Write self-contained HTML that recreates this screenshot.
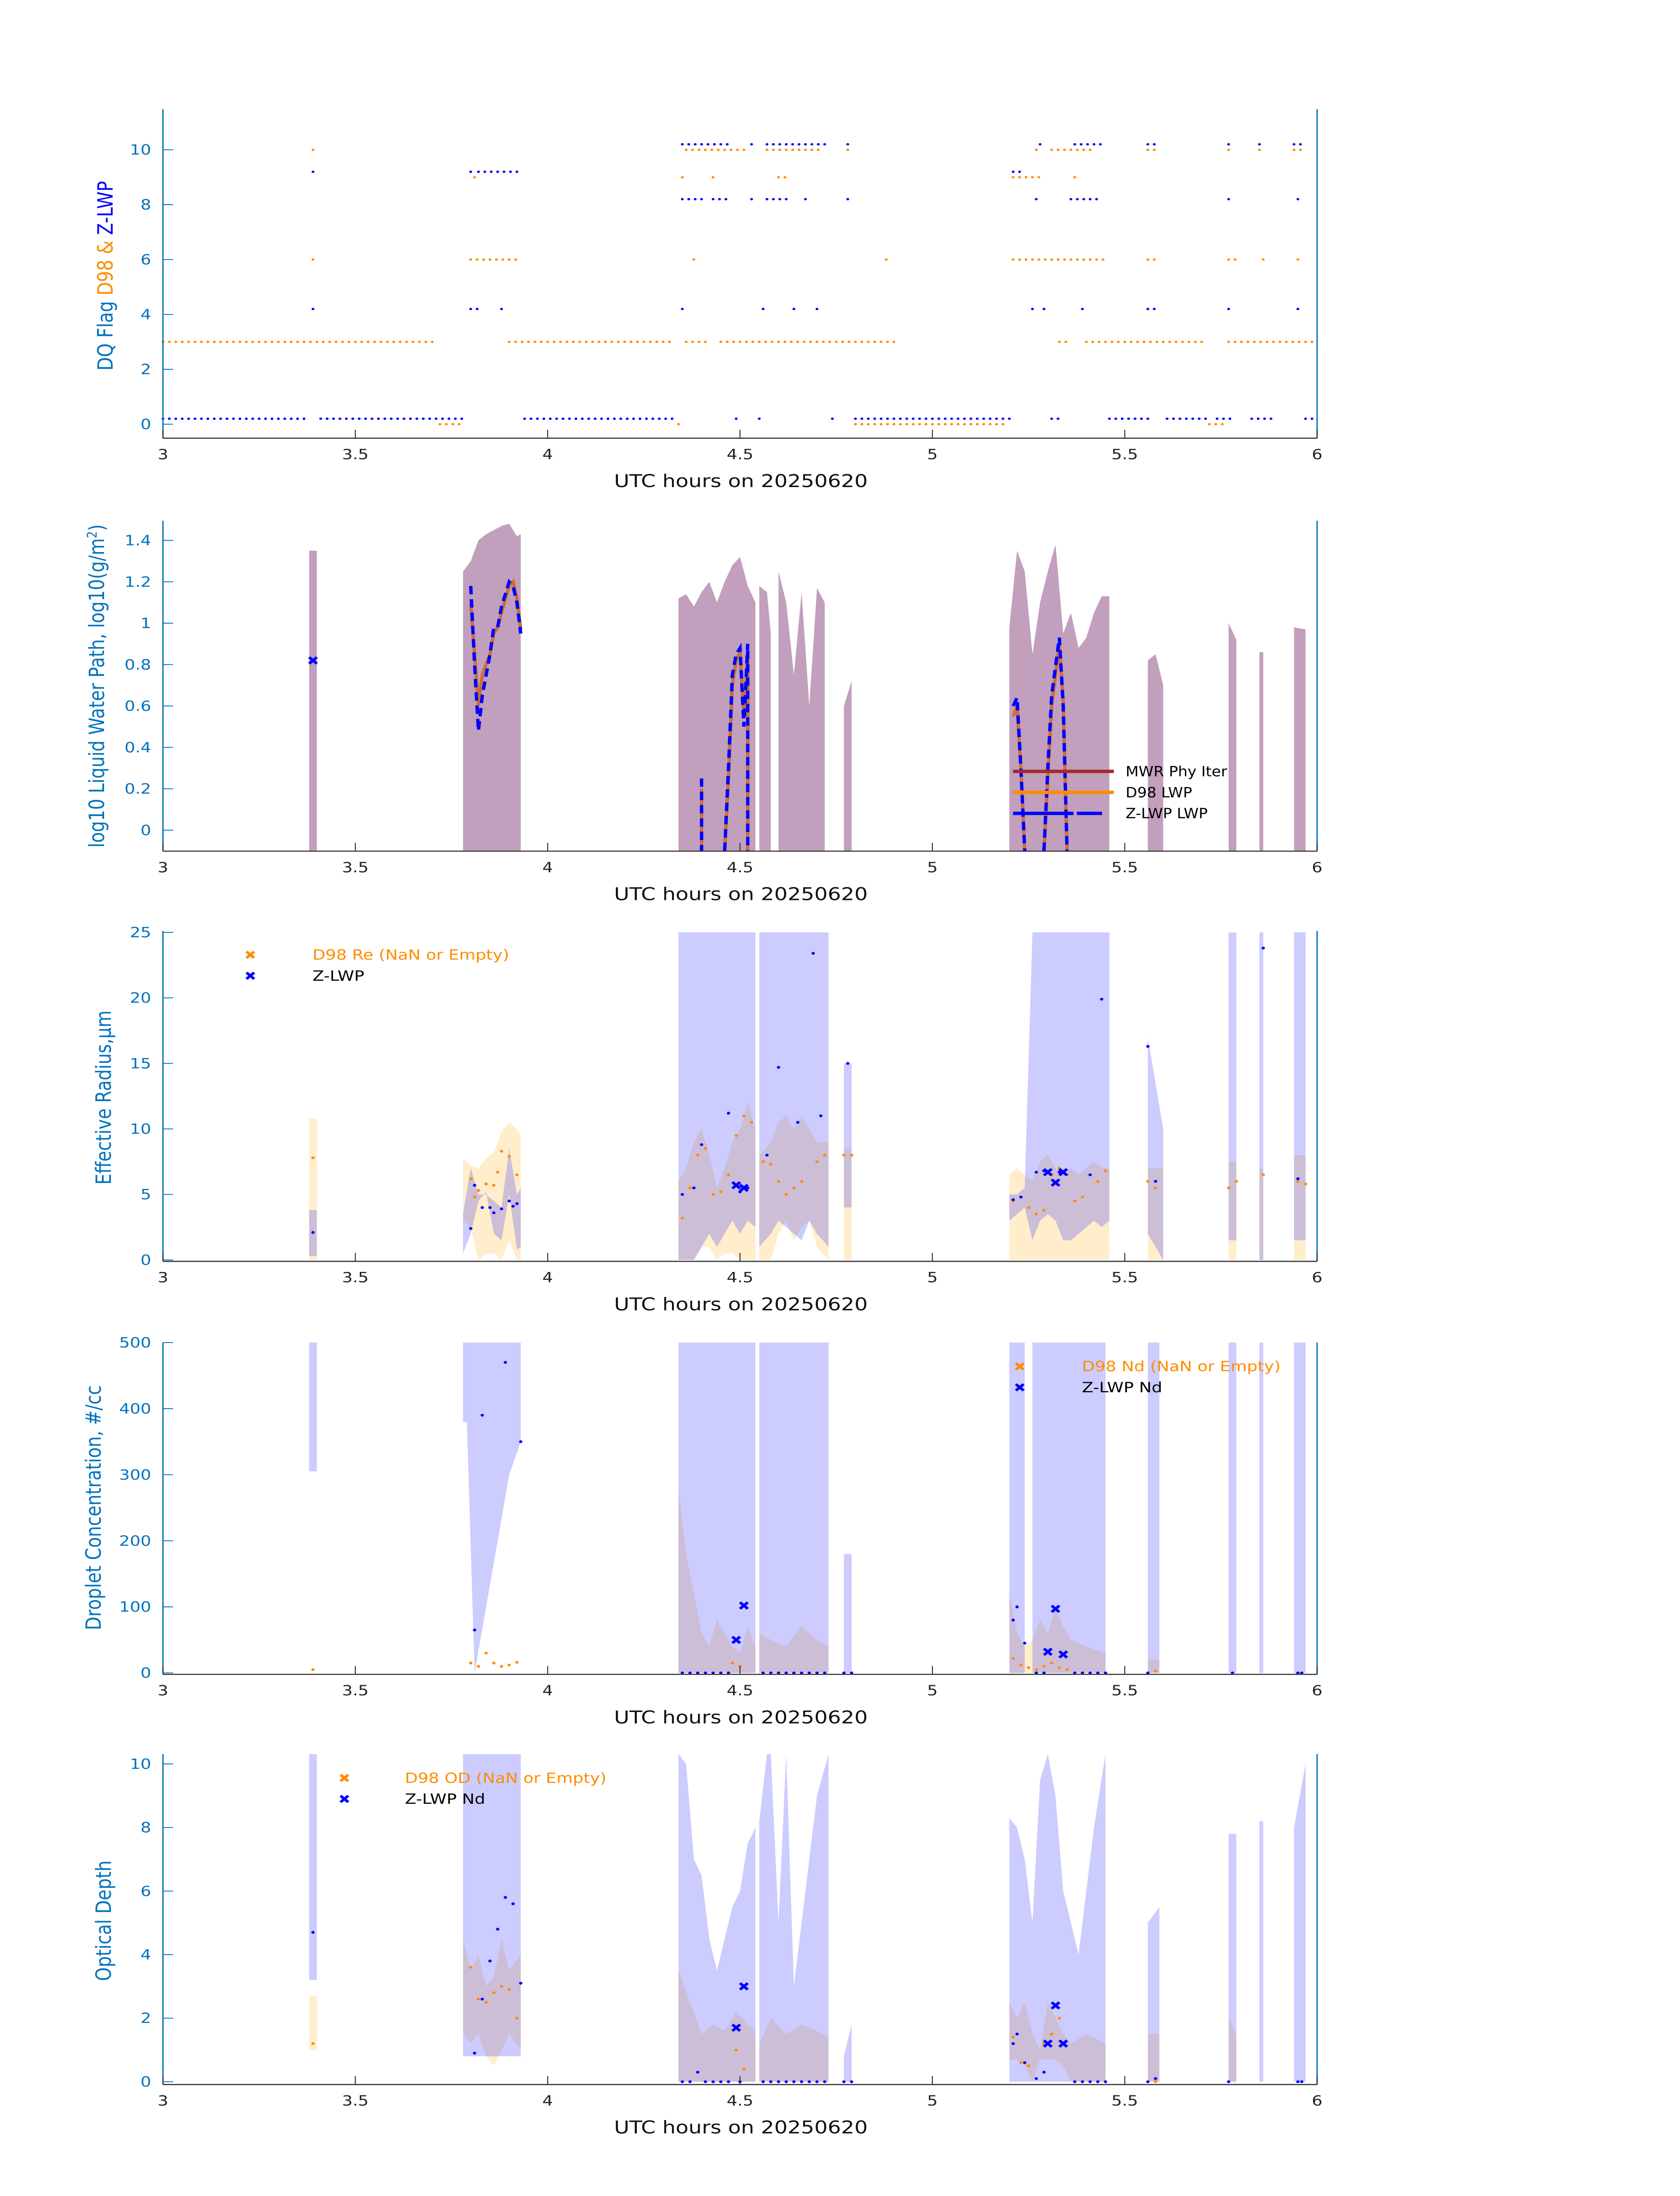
<!DOCTYPE html>
<html><head><meta charset="utf-8"><style>
html,body{margin:0;padding:0;background:#fff;overflow:hidden;width:100vw;height:100vh}
svg{display:block;position:fixed;left:0;top:0;width:100vw;height:100vh}
text{font-family:"DejaVu Sans","Liberation Sans",sans-serif}
</style></head><body>
<svg id="fig" xmlns="http://www.w3.org/2000/svg" viewBox="0 0 1000 1568.63" preserveAspectRatio="none"></svg>
<script>
// ---------- DATA ----------
const d98Flag0 = [[3.72,3.78],[4.34,4.34],[4.80,5.19],[5.72,5.76]];
const d98Flag3 = [[3.0,3.71],[3.90,4.32],[4.36,4.41],[4.45,4.91],[5.33,5.35],[5.40,5.71],[5.77,6.0]];
const d98Flag6 = [[3.39,3.39],[3.80,3.93],[4.38,4.38],[4.88,4.88],[5.21,5.45],[5.56,5.59],[5.77,5.79],[5.86,5.86],[5.95,5.96]];
const d98Flag9 = [[3.81,3.81],[4.35,4.35],[4.43,4.43],[4.60,4.62],[5.21,5.29],[5.37,5.38]];
const d98Flag10 = [[3.39,3.39],[4.36,4.52],[4.57,4.71],[4.78,4.79],[5.27,5.27],[5.31,5.42],[5.56,5.59],[5.77,5.77],[5.85,5.85],[5.94,5.96]];
const zFlag0 = [[3.0,3.38],[3.41,3.78],[3.94,4.33],[4.49,4.50],[4.55,4.55],[4.74,4.75],[4.80,5.20],[5.31,5.34],[5.46,5.56],[5.61,5.72],[5.74,5.78],[5.83,5.89],[5.97,6.0]];
const zFlag4 = [[3.39,3.39],[3.80,3.83],[3.88,3.88],[4.35,4.36],[4.56,4.56],[4.64,4.65],[4.70,4.70],[5.26,5.26],[5.29,5.29],[5.39,5.39],[5.56,5.58],[5.77,5.78],[5.95,5.95]];
const zFlag8 = [[4.35,4.40],[4.43,4.47],[4.53,4.53],[4.57,4.62],[4.67,4.67],[4.78,4.78],[5.27,5.27],[5.36,5.43],[5.77,5.77],[5.95,5.96]];
const zFlag9 = [[3.39,3.39],[3.80,3.80],[3.82,3.93],[5.21,5.24]];
const zFlag10 = [[4.35,4.47],[4.53,4.53],[4.57,4.72],[4.78,4.79],[5.28,5.28],[5.37,5.45],[5.56,5.58],[5.77,5.77],[5.85,5.85],[5.94,5.96]];

const lwpBandT = [3.38,3.40,null,3.78,3.80,3.82,3.84,3.86,3.88,3.90,3.92,3.93,null,4.34,4.36,4.38,4.40,4.42,4.44,4.46,4.48,4.50,4.52,4.54,null,4.55,4.57,4.58,null,4.60,4.62,4.64,4.66,4.68,4.70,4.72,null,4.77,4.79,null,5.20,5.22,5.24,5.26,5.28,5.30,5.32,5.34,5.36,5.38,5.40,5.42,5.44,5.46,null,5.56,5.58,5.60,null,5.77,5.79,null,5.85,5.86,null,5.94,5.97];
const lwpBandHi = [1.35,1.35,null,1.25,1.3,1.4,1.43,1.45,1.47,1.48,1.42,1.43,null,1.12,1.14,1.08,1.15,1.2,1.1,1.2,1.28,1.32,1.18,1.1,null,1.18,1.15,0.95,null,1.25,1.1,0.75,1.15,0.6,1.17,1.1,null,0.6,0.72,null,0.98,1.35,1.25,0.85,1.1,1.25,1.38,0.95,1.05,0.88,0.93,1.05,1.13,1.13,null,0.82,0.85,0.7,null,1.0,0.92,null,0.86,0.86,null,0.98,0.97];
const zLwpT = [3.80,3.81,3.82,3.83,3.85,3.86,3.87,3.88,3.90,3.91,3.92,3.93,null,4.40,4.40,null,4.46,4.47,4.48,4.49,4.50,4.51,4.52,4.52,null,5.21,5.22,5.23,5.24,null,5.29,5.30,5.31,5.33,5.34,5.35];
const zLwpV = [1.18,0.8,0.48,0.65,0.85,0.98,0.98,1.08,1.2,1.18,1.1,0.95,null,0.25,-0.1,null,-0.1,0.3,0.75,0.85,0.88,0.5,0.9,-0.1,null,0.6,0.64,0.3,-0.1,null,-0.1,0.3,0.65,0.93,0.6,-0.1];
const d98LwpT = [3.80,3.81,3.82,3.83,3.85,3.86,3.87,3.88,3.90,3.91,3.92,3.93,null,4.40,4.40,null,4.46,4.47,4.48,4.49,4.50,4.51,4.52,4.52,null,5.21,5.22,5.23,5.24,null,5.29,5.30,5.31,5.33,5.34,5.35];
const d98LwpV = [1.1,0.85,0.6,0.75,0.85,0.95,0.98,1.05,1.18,1.2,1.12,0.97,null,0.2,-0.1,null,-0.1,0.25,0.7,0.82,0.86,0.55,0.85,-0.1,null,0.55,0.6,0.3,-0.1,null,-0.1,0.25,0.6,0.9,0.62,-0.1];
const zLwpXT = [3.39];
const zLwpXV = [0.82];

const reOBandT = [3.38,3.40,null,3.78,3.80,3.82,3.84,3.86,3.88,3.90,3.92,3.93,null,4.34,4.36,4.38,4.40,4.42,4.44,4.46,4.48,4.50,4.52,4.54,null,4.55,4.58,4.60,4.62,4.64,4.66,4.68,4.70,4.73,null,4.77,4.79,null,5.20,5.22,5.24,5.26,5.28,5.30,5.32,5.34,5.36,5.38,5.40,5.42,5.44,5.46,null,5.56,5.60,null,5.77,5.79,null,5.85,5.86,null,5.94,5.97];
const reOLo = [0,0,null,3,2.5,0,0.5,0.5,0,1.5,0,0,null,0,0,0,1,1,0,0.5,0.5,0,0,0,null,0,0,2,3,1.5,2.5,3,1,0,null,0,0,null,0,0,0,0,0,0,0,0,0,0,0,0,0,0,null,0,0,null,0,0,null,0,0,null,0,0];
const reOHi = [10.8,10.8,null,7.7,7.2,7,7.8,8.2,9.8,10.5,10,9.5,null,6,7,9,10,8,5.5,7,9,10,12,10,null,8,9,10.5,11,10,11,10,9,9,null,8.5,8.5,null,6.5,7,6.5,6,7.5,8,7,6.5,7,6.5,7,7.5,7,7,null,7,7,null,7.5,7.5,null,7,7,null,8,8];
const reBLo = [0.3,0.3,null,0.5,2,4.5,5.2,2,1.5,5,0.8,1,null,0,0,0,1,2,1,2,3,2,3,2.5,null,1,2,3,2.5,2,1.5,3,2,1,null,4,4,null,3,3.5,4,1.5,3,3.5,3,1.5,1.5,2,2.5,3,2.5,3,null,2,0,null,1.5,1.5,null,0,0,null,1.5,1.5];
const reBHi = [3.8,3.8,null,3.5,7,5,5,4.5,4,8.5,5,5.5,null,25,25,25,25,25,25,25,25,25,25,25,null,25,25,25,25,25,25,25,25,25,null,15,15,null,5,5,5.5,25,25,25,25,25,25,25,25,25,25,25,null,17,10,null,25,25,null,25,25,null,25,25];
const reOPtT = [3.39,3.80,3.81,3.82,3.84,3.86,3.87,3.88,3.90,3.92,4.35,4.37,4.39,4.41,4.43,4.45,4.47,4.49,4.51,4.53,4.56,4.58,4.60,4.62,4.64,4.66,4.70,4.72,4.77,4.79,5.21,5.23,5.25,5.27,5.29,5.31,5.33,5.35,5.37,5.39,5.41,5.43,5.45,5.56,5.58,5.77,5.79,5.86,5.95,5.97];
const reOPtV = [7.8,6.2,4.8,5.3,5.8,5.7,6.7,8.3,7.9,6.5,3.2,5.5,8,8.5,5,5.2,6.5,9.5,11,10.5,7.5,7.3,6,5,5.5,6,7.5,8,8,8,4.5,4.8,4,3.5,3.8,6.5,7,6.5,4.5,4.8,6.5,6,6.8,6,5.5,5.5,6,6.5,6,5.8];
const reBPtT = [3.39,3.80,3.81,3.83,3.85,3.86,3.88,3.90,3.91,3.92,4.35,4.38,4.40,4.47,4.50,4.52,4.57,4.60,4.65,4.69,4.71,4.78,5.21,5.23,5.27,5.29,5.33,5.41,5.44,5.56,5.58,5.86,5.95];
const reBPtV = [2.1,2.4,5.7,4,4,3.6,3.9,4.5,4.1,4.3,5,5.5,8.8,11.2,5.2,5.5,8,14.7,10.5,23.4,11,15,4.6,4.8,6.7,6.8,6.7,6.5,19.9,16.3,6,23.8,6.2];
const reXT = [4.49,4.51,5.30,5.32,5.34];
const reXV = [5.7,5.5,6.7,5.9,6.7];

const ndBBandT = [3.38,3.40,null,3.78,3.79,3.81,3.84,3.87,3.90,3.93,null,4.34,4.54,null,4.55,4.73,null,4.77,4.79,null,5.20,5.24,null,5.26,5.45,null,5.56,5.59,null,5.77,5.79,null,5.85,5.86,null,5.94,5.97];
const ndBLo = [305,305,null,380,380,0,100,200,300,350,null,0,0,null,0,0,null,0,0,null,0,0,null,0,0,null,0,0,null,0,0,null,0,0,null,0,0];
const ndBHi = [500,500,null,500,500,500,500,500,500,500,null,500,500,null,500,500,null,180,180,null,500,500,null,500,500,null,500,500,null,500,500,null,500,500,null,500,500];
const ndOBandT = [4.34,4.36,4.38,4.40,4.42,4.44,4.46,4.48,4.50,4.52,4.54,null,4.55,4.58,4.62,4.66,4.70,4.73,null,5.20,5.22,5.24,5.26,5.28,5.30,5.32,5.34,5.36,5.40,5.45,null,5.56,5.59];
const ndOLo = [0,0,0,0,0,0,0,0,0,0,0,null,0,0,0,0,0,0,null,0,0,0,0,0,0,0,0,0,0,0,null,0,0];
const ndOHi = [280,180,120,60,40,80,60,40,30,70,40,null,60,50,40,70,50,40,null,120,60,40,50,80,60,100,70,50,40,30,null,20,20];
const ndOPtT = [3.39,3.80,3.82,3.84,3.86,3.88,3.90,3.92,4.48,4.50,5.21,5.23,5.25,5.27,5.29,5.31,5.33,5.35,5.58];
const ndOPtV = [5,15,10,30,15,10,12,16,15,10,22,12,8,5,10,15,8,5,3];
const ndBPtT = [3.81,3.83,3.89,3.93,4.35,4.37,4.39,4.41,4.43,4.45,4.47,4.56,4.58,4.60,4.62,4.64,4.66,4.68,4.70,4.72,4.77,4.79,5.21,5.22,5.24,5.27,5.29,5.37,5.39,5.41,5.43,5.45,5.56,5.78,5.95,5.96];
const ndBPtV = [65,390,470,350,0,0,0,0,0,0,0,0,0,0,0,0,0,0,0,0,0,0,80,100,45,0,0,0,0,0,0,0,0,0,0,0];
const ndXT = [4.49,4.51,5.30,5.32,5.34];
const ndXV = [50,102,32,97,28];

const odBBandT = [3.38,3.40,null,3.78,3.93,null,4.34,4.36,4.38,4.40,4.42,4.44,4.46,4.48,4.50,4.52,4.54,null,4.55,4.57,4.58,4.60,4.62,4.64,4.66,4.68,4.70,4.73,null,4.77,4.79,null,5.20,5.22,5.24,5.26,5.28,5.30,5.32,5.34,5.36,5.38,5.40,5.42,5.45,null,5.56,5.59,null,5.77,5.79,null,5.85,5.86,null,5.94,5.97];
const odBLo = [3.2,3.2,null,0.8,0.8,null,0,0,0,0,0,0,0,0,0,0,0,null,0,0,0,0,0,0,0,0,0,0,null,0,0,null,0,0,0,0,0,0,0,0,0,0,0,0,0,null,0,0,null,0,0,null,0,0,null,0,0];
const odBHi = [10.4,10.4,null,10.4,10.4,null,10.4,10,7,6.5,4.5,3.5,4.5,5.5,6,7.5,8,null,8.2,10.4,10.4,5,10.4,3,5,7,9,10.4,null,0.8,1.8,null,8.3,8,7,5,9.5,10.4,9,6,5,4,6,8,10.4,null,5,5.5,null,7.8,7.8,null,8.2,8.2,null,8,10];
const odOBandT = [3.38,3.40,null,3.78,3.80,3.82,3.84,3.86,3.88,3.90,3.93,null,4.34,4.37,4.40,4.43,4.46,4.49,4.52,4.54,null,4.55,4.58,4.62,4.66,4.70,4.73,null,5.20,5.22,5.24,5.26,5.28,5.30,5.32,5.34,5.36,5.40,5.45,null,5.56,5.59,null,5.77,5.79];
const odOLo = [1,1,null,1.5,1.2,1.5,0.8,0.5,1,1.5,1,null,0,0,0,0,0,0,0,0,null,0,0,0,0,0,0,null,0.7,0.7,0.5,0,0.7,0.7,0.7,0.5,0,0,0,null,0,0,null,0,0];
const odOHi = [2.7,2.7,null,4.5,3.5,4,3,3.3,4.5,3.5,4,null,3.5,2.5,1.5,1.8,1.6,2.2,1.8,1.6,null,1.2,2.0,1.5,1.8,1.6,1.4,null,2.5,2,2.5,1.5,1,2.5,2,1.5,1.2,1.5,1.2,null,1.5,1.5,null,2,1.5];
const odOPtT = [3.39,3.80,3.82,3.84,3.86,3.88,3.90,3.92,4.49,4.51,5.21,5.23,5.25,5.29,5.31,5.33,5.58];
const odOPtV = [1.2,3.6,2.6,2.5,2.8,3.0,2.9,2.0,1.0,0.4,1.4,0.6,0.5,1.2,1.5,2.0,0];
const odBPtT = [3.39,3.81,3.83,3.85,3.87,3.89,3.91,3.93,4.35,4.37,4.39,4.41,4.43,4.45,4.47,4.50,4.56,4.58,4.60,4.62,4.64,4.66,4.68,4.70,4.72,4.77,4.79,5.21,5.22,5.24,5.27,5.29,5.37,5.39,5.41,5.43,5.45,5.56,5.58,5.77,5.95,5.96];
const odBPtV = [4.7,0.9,2.6,3.8,4.8,5.8,5.6,3.1,0,0,0.3,0,0,0,0,0,0,0,0,0,0,0,0,0,0,0,0,1.2,1.5,0.6,0.1,0.3,0,0,0,0,0,0,0.1,0,0,0];
const odXT = [4.49,4.51,5.30,5.32,5.34];
const odXV = [1.7,3.0,1.2,2.4,1.2];

const xTicks = [3,3.5,4,4.5,5,5.5,6];
const xTickLabels = ["3","3.5","4","4.5","5","5.5","6"];

// ---------- DRAWING ----------
const NS = "http://www.w3.org/2000/svg";
const svg = document.getElementById('fig');
function mk(tag, attrs, parent){const e=document.createElementNS(NS,tag);for(const k in attrs)e.setAttribute(k,attrs[k]);(parent||svg).appendChild(e);return e;}
const X0=97, X1=784;
function xs(t){return X0+(X1-X0)*(t-3)/3;}
const ORANGE="#ff8c00", BLUE="#0000ff", AXBLUE="#0072bd";

function makePanel(name, top, bot, v0, p0, v1, p1, ymin, yTicks, yLabels){
  const g=mk('g',{});
  
  
  const ys=v=>{let y=p0+(p1-p0)*(v-v0)/(v1-v0);return Math.min(bot,Math.max(top,y));};
  return {g,top,bot,ys,yTicks,yLabels};
}
function drawAxes(P, xlabel, ylabelParts, ylabX, ylabY){
  const g=P.g;
  const ax=mk('g',{},g);
  
  
  mk('line',{x1:X0,y1:P.top,x2:X0,y2:P.bot,stroke:AXBLUE,'stroke-width':0.8},ax);
  mk('line',{x1:X1,y1:P.top,x2:X1,y2:P.bot,stroke:AXBLUE,'stroke-width':0.8},ax);
  mk('line',{x1:X0,y1:P.bot,x2:X1,y2:P.bot,stroke:"#333",'stroke-width':0.8},ax);
  xTicks.forEach((t,i)=>{
    mk('line',{x1:xs(t),y1:P.bot,x2:xs(t),y2:P.bot-6,stroke:"#333",'stroke-width':0.6},ax);
    const tx=mk('text',{x:xs(t),y:P.bot+15,'font-size':10,'text-anchor':'middle',fill:'#222'},ax);
    
    
    tx.textContent=xTickLabels[i];
  });
  P.yTicks.forEach((v,i)=>{
    const y=P.ys(v);
    mk('line',{x1:X0,y1:y,x2:X0+6,y2:y,stroke:AXBLUE,'stroke-width':0.6},ax);
    const tx=mk('text',{x:X0-7,y:y+3.5,'font-size':10,'text-anchor':'end',fill:AXBLUE},ax);
    
    
    tx.textContent=P.yLabels[i];
  });
  const xl=mk('text',{x:441,y:P.bot+35,'font-size':12.5,'text-anchor':'middle',fill:'#111'},ax);
  
  
  xl.textContent=xlabel;
  const yl=mk('text',{x:ylabX,y:ylabY,'font-size':12.5,'text-anchor':'middle',transform:`rotate(-90 ${ylabX} ${ylabY})`},ax);
  
  
  ylabelParts.forEach(p=>{const s=mk('tspan',{fill:p[1]},yl);if(p[2]){s.setAttribute('baseline-shift','super');s.setAttribute('font-size','8');}s.textContent=p[0];});
}
function band(P,T,lo,hi,fill,op,name){
  let seg=[];
  const flush=()=>{if(seg.length<2){seg=[];return;}
    let d='M'+seg.map(s=>xs(s[0]).toFixed(2)+','+P.ys(s[2]).toFixed(2)).join('L');
    d+='L'+seg.slice().reverse().map(s=>xs(s[0]).toFixed(2)+','+P.ys(s[1]).toFixed(2)).join('L')+'Z';
    const e=mk('path',{d,fill,'fill-opacity':op},P.g);
    
    
    seg=[];};
  T.forEach((t,i)=>{if(t===null)flush();else seg.push([t,lo[i],hi[i]]);});
  flush();
}
function line(P,T,V,stroke,w,dash,name){
  let seg=[];
  const flush=()=>{if(seg.length<2){seg=[];return;}
    const e=mk('polyline',{points:seg.map(s=>xs(s[0]).toFixed(2)+','+P.ys(s[1]).toFixed(2)).join(' '),fill:'none',stroke,'stroke-width':w,'stroke-dasharray':dash||'none'},P.g);
    
    
    seg=[];};
  T.forEach((t,i)=>{if(t===null)flush();else seg.push([t,V[i]]);});
  flush();
}
function pts(P,T,V,fill,r,name){
  T.forEach((t,i)=>{
    const c=mk('circle',{cx:xs(t),cy:P.ys(V[i]),r,fill},P.g);
    
    
  });
}
function xmark(P,x,y,col,name){
  const e=mk('path',{d:`M${x-2.3},${y-2.3}L${x+2.3},${y+2.3}M${x-2.3},${y+2.3}L${x+2.3},${y-2.3}`,stroke:col,'stroke-width':1.8},P.g);
  
  
}
function xmarks(P,T,V,col,name){T.forEach((t,i)=>xmark(P,xs(t),P.ys(V[i]),col,name));}
function runs(P,R,flag,off,col,name){
  const T=[],V=[];
  R.forEach(r=>{for(let t=r[0];t<=r[1]+1e-6;t+=1/60){T.push(t);V.push(flag+off);}});
  pts(P,T,V,col,0.85,name);
}
function legendText(P,x,y,txt,col,cond){
  const e=mk('text',{x,y:y+3.5,'font-size':10,fill:col},P.g);
  if(cond)e.setAttribute('font-stretch','condensed');
  
  
  e.textContent=txt;
}

// Panel 1
const P1=makePanel('dq-flag-panel',78,313,0,303,10,107,0,[0,2,4,6,8,10],["0","2","4","6","8","10"]);
runs(P1,d98Flag0,0,0,ORANGE,'d98-flag-point');
runs(P1,d98Flag3,3,0,ORANGE,'d98-flag-point');
runs(P1,d98Flag6,6,0,ORANGE,'d98-flag-point');
runs(P1,d98Flag9,9,0,ORANGE,'d98-flag-point');
runs(P1,d98Flag10,10,0,ORANGE,'d98-flag-point');
runs(P1,zFlag0,0,0.2,BLUE,'zlwp-flag-point');
runs(P1,zFlag4,4,0.2,BLUE,'zlwp-flag-point');
runs(P1,zFlag8,8,0.2,BLUE,'zlwp-flag-point');
runs(P1,zFlag9,9,0.2,BLUE,'zlwp-flag-point');
runs(P1,zFlag10,10,0.2,BLUE,'zlwp-flag-point');
drawAxes(P1,'UTC hours on 20250620',[["DQ Flag ",AXBLUE],["D98 & ",ORANGE],[" Z-LWP",BLUE]],67,197);

// Panel 2
const P2=makePanel('lwp-panel',372,608,0,593,1.4,386,-0.1,[0,0.2,0.4,0.6,0.8,1,1.2,1.4],["0","0.2","0.4","0.6","0.8","1","1.2","1.4"]);
band(P2,lwpBandT,lwpBandT.map(t=>t===null?null:-0.2),lwpBandHi,'#c29fbd',1,'lwp-uncertainty-band');
line(P2,d98LwpT,d98LwpV,'#cc7033',2,null,'d98-lwp-line');
line(P2,zLwpT,zLwpV,BLUE,2,'6,3.5','zlwp-lwp-line');
xmarks(P2,zLwpXT,zLwpXV,BLUE,'zlwp-lwp-marker');
mk('line',{x1:603,y1:551,x2:663,y2:551,stroke:'#a52a2a','stroke-width':2.4},P2.g);
mk('line',{x1:603,y1:566,x2:663,y2:566,stroke:ORANGE,'stroke-width':2.4},P2.g);
mk('line',{x1:603,y1:581,x2:639,y2:581,stroke:BLUE,'stroke-width':2.4},P2.g);
mk('line',{x1:641,y1:581,x2:656,y2:581,stroke:BLUE,'stroke-width':2.4},P2.g);
legendText(P2,670,551,'MWR Phy Iter','#000',true);
legendText(P2,670,566,'D98 LWP','#000',true);
legendText(P2,670,581,'Z-LWP LWP','#000',true);
drawAxes(P2,'UTC hours on 20250620',[["log10 Liquid Water Path, log10(g/m",AXBLUE],["2",AXBLUE,true],[")",AXBLUE]],62,490);

// Panel 3
const P3=makePanel('effective-radius-panel',665,901,0,900,25,666,0,[0,5,10,15,20,25],["0","5","10","15","20","25"]);
band(P3,reOBandT,reOLo,reOHi,'#ffa500',0.2,'d98-re-band');
band(P3,reOBandT,reBLo,reBHi,'#0000ff',0.2,'zlwp-re-band');
pts(P3,reOPtT,reOPtV,ORANGE,1,'d98-re-point');
pts(P3,reBPtT,reBPtV,BLUE,1,'zlwp-re-point');
xmarks(P3,reXT,reXV,BLUE,'zlwp-re-marker');
xmark(P3,149,682,ORANGE,'legend-marker');
xmark(P3,149,697,BLUE,'legend-marker');
legendText(P3,186,682,'D98 Re (NaN or Empty)',ORANGE,false);
legendText(P3,186,697,'Z-LWP','#000',false);
drawAxes(P3,'UTC hours on 20250620',[["Effective Radius,\u03bcm",AXBLUE]],66,784);

// Panel 4
const P4=makePanel('droplet-concentration-panel',959,1196,0,1195,500,959,0,[0,100,200,300,400,500],["0","100","200","300","400","500"]);
band(P4,ndOBandT,ndOLo,ndOHi,'#ffa500',0.2,'d98-nd-band');
band(P4,ndBBandT,ndBLo,ndBHi,'#0000ff',0.2,'zlwp-nd-band');
pts(P4,ndOPtT,ndOPtV,ORANGE,1,'d98-nd-point');
pts(P4,ndBPtT,ndBPtV,BLUE,1,'zlwp-nd-point');
xmarks(P4,ndXT,ndXV,BLUE,'zlwp-nd-marker');
xmark(P4,607,976,ORANGE,'legend-marker');
xmark(P4,607,991,BLUE,'legend-marker');
legendText(P4,644,976,'D98 Nd (NaN or Empty)',ORANGE,false);
legendText(P4,644,991,'Z-LWP Nd','#000',false);
drawAxes(P4,'UTC hours on 20250620',[["Droplet Concentration, #/cc",AXBLUE]],60,1077);

// Panel 5
const P5=makePanel('optical-depth-panel',1253,1489,0,1487,10,1260,0,[0,2,4,6,8,10],["0","2","4","6","8","10"]);
band(P5,odOBandT,odOLo,odOHi,'#ffa500',0.2,'d98-od-band');
band(P5,odBBandT,odBLo,odBHi,'#0000ff',0.2,'zlwp-od-band');
pts(P5,odOPtT,odOPtV,ORANGE,1,'d98-od-point');
pts(P5,odBPtT,odBPtV,BLUE,1,'zlwp-od-point');
xmarks(P5,odXT,odXV,BLUE,'zlwp-od-marker');
xmark(P5,205,1270,ORANGE,'legend-marker');
xmark(P5,205,1285,BLUE,'legend-marker');
legendText(P5,241,1270,'D98 OD (NaN or Empty)',ORANGE,false);
legendText(P5,241,1285,'Z-LWP Nd','#000',false);
drawAxes(P5,'UTC hours on 20250620',[["Optical Depth",AXBLUE]],66,1372);
</script>
</body></html>
